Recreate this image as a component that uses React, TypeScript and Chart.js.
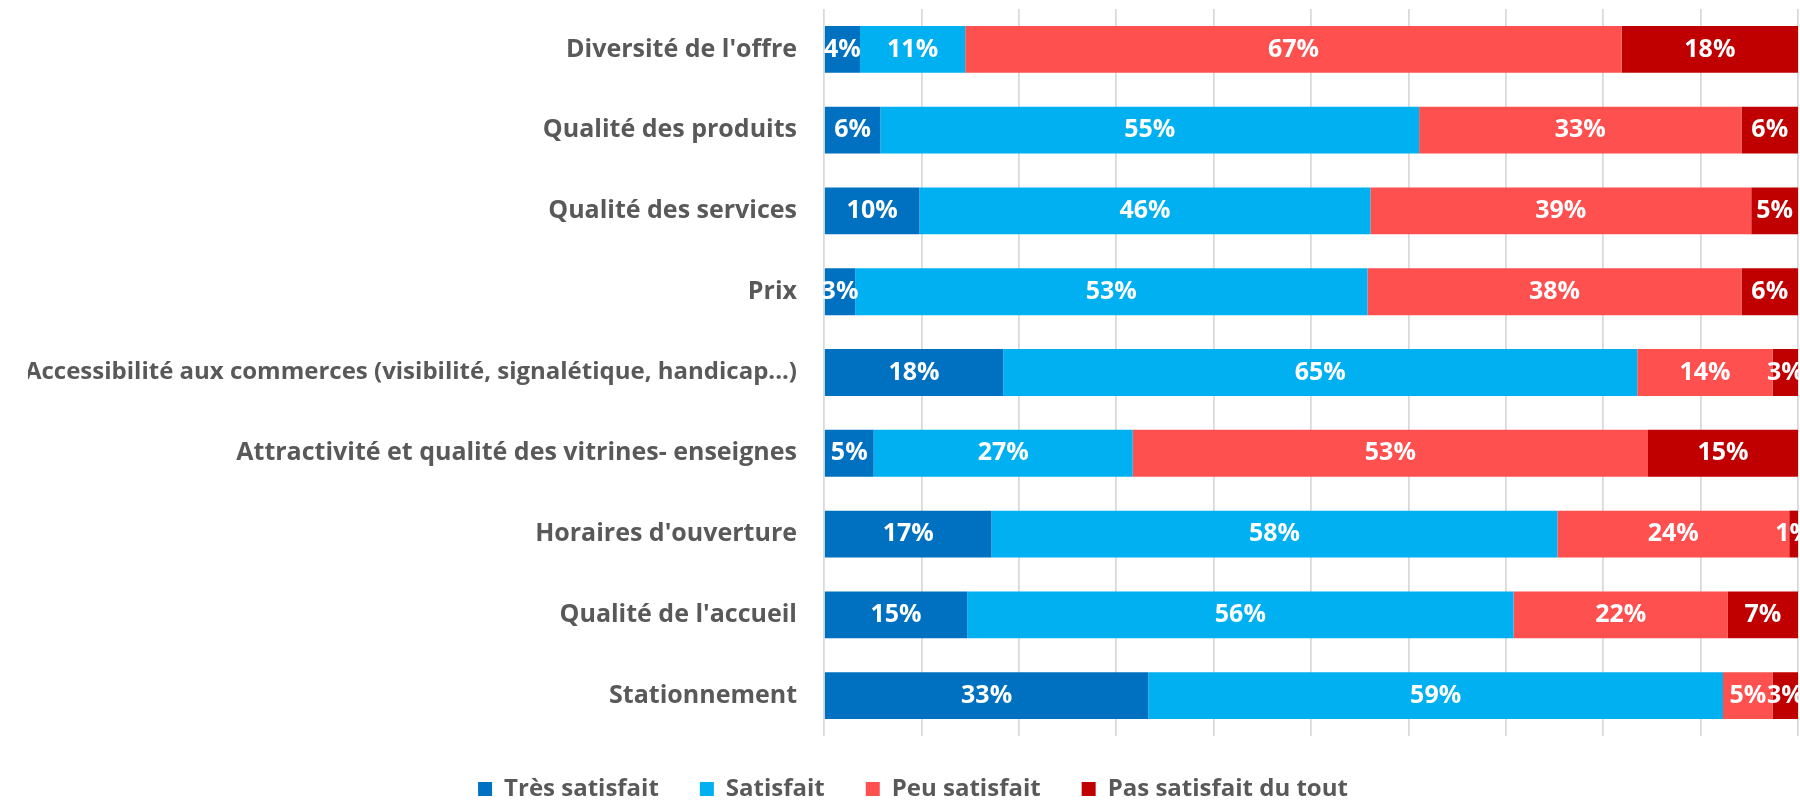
import React, { useEffect, useRef } from 'react';
import { Chart, registerables } from 'chart.js';

Chart.register(...registerables);

const categories = [
  "Diversité de l'offre",
  'Qualité des produits',
  'Qualité des services',
  'Prix',
  'Accessibilité aux commerces (visibilité, signalétique, handicap...)',
  'Attractivité et qualité des vitrines- enseignes',
  "Horaires d'ouverture",
  "Qualité de l'accueil",
  'Stationnement',
];

const seriesNames = ['Très satisfait', 'Satisfait', 'Peu satisfait', 'Pas satisfait du tout'];

const tresSatisfait = [3.7, 5.8, 9.8, 3.2, 18.4, 5.1, 17.2, 14.7, 33.3];
const satisfait = [10.8, 55.3, 46.3, 52.6, 65.1, 26.6, 58.1, 56.1, 59.0];
const peuSatisfait = [67.4, 33.1, 39.1, 38.4, 13.9, 52.9, 23.8, 22.0, 5.1];
const pasSatisfait = [18.1, 5.8, 4.8, 5.8, 2.6, 15.4, 0.9, 7.2, 2.6];

const seriesColors = ['#0070C0', '#00B0F0', '#FF5050', '#C00000'];

const xTicks = [0, 10, 20, 30, 40, 50, 60, 70, 80, 90, 100];

const FONT = '"Open Sans", "Noto Sans", sans-serif';

const valueLabels = {
  id: 'valueLabels',
  afterDatasetsDraw(chart: any) {
    const ctx = chart.ctx;
    ctx.save();
    ctx.font = `bold 25px ${FONT}`;
    ctx.fillStyle = '#FFFFFF';
    ctx.textAlign = 'center';
    ctx.textBaseline = 'middle';
    chart.data.datasets.forEach((ds: any, i: number) => {
      const meta = chart.getDatasetMeta(i);
      meta.data.forEach((bar: any, j: number) => {
        const v = ds.data[j];
        const p = bar.getProps(['x', 'base', 'y'], true);
        ctx.fillText(Math.round(v) + '%', (p.x + p.base) / 2, p.y);
      });
    });
    ctx.restore();
  },
};

export default function App() {
  const ref = useRef<HTMLCanvasElement | null>(null);

  useEffect(() => {
    if (!ref.current) return;
    const allSeries = [tresSatisfait, satisfait, peuSatisfait, pasSatisfait];
    const chart = new Chart(ref.current, {
      type: 'bar',
      data: {
        labels: categories,
        datasets: allSeries.map((d, i) => ({
          label: seriesNames[i],
          data: d,
          backgroundColor: seriesColors[i],
          borderWidth: 0,
          barPercentage: 0.58,
          categoryPercentage: 1,
        })),
      },
      options: {
        indexAxis: 'y',
        responsive: false,
        animation: false,
        layout: { padding: { left: 28, right: 2, top: 9, bottom: 0 } },
        scales: {
          x: {
            stacked: true,
            min: 0,
            max: 100,
            afterBuildTicks: (scale: any) => {
              scale.ticks = xTicks.map((v) => ({ value: v }));
            },
            ticks: { display: false },
            grid: { color: '#D9D9D9', lineWidth: 1.75, drawTicks: false },
            border: { display: false },
          },
          y: {
            stacked: true,
            grid: { display: false, drawTicks: false },
            border: { display: false },
            ticks: {
              color: '#595959',
              font: (c: any) => ({
                family: FONT,
                size: (categories[c.index] || '').length > 50 ? 24 : 25,
                weight: 'bold',
              }),
              padding: 27,
            },
            afterFit: (scale: any) => {
              scale.width = 796;
              scale.paddingTop = 0;
              scale.paddingBottom = 0;
            },
          },
        },
        plugins: {
          legend: {
            position: 'bottom',
            maxHeight: 67,
            labels: {
              color: '#595959',
              font: { family: FONT, size: 24, weight: 'bold' },
              boxWidth: 14,
              boxHeight: 14,
              padding: 41,
            },
          },
          tooltip: { enabled: false },
        },
      },
      plugins: [valueLabels],
    });
    return () => chart.destroy();
  }, []);

  return (
    <div style={{ position: 'absolute', left: 0, top: 0, width: 1800, height: 803, background: '#fff' }}>
      <canvas ref={ref} width={1800} height={803} style={{ display: 'block' }} />
    </div>
  );
}
